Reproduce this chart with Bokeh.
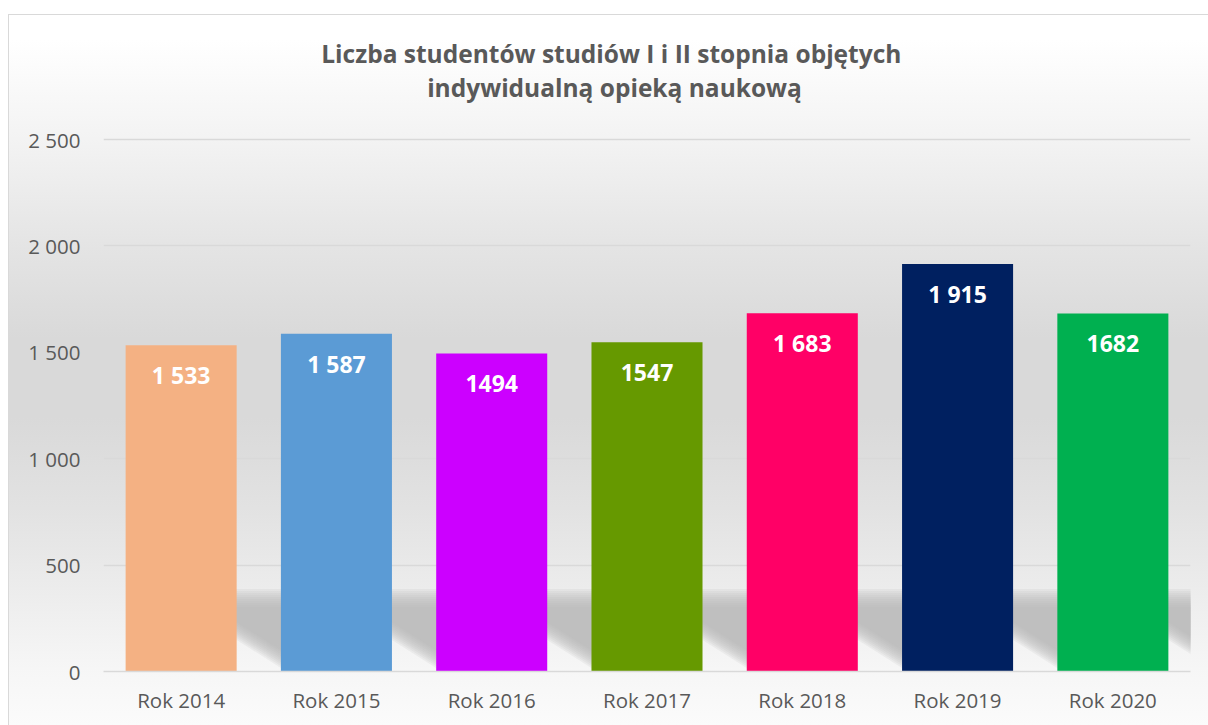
from bokeh.plotting import figure
from bokeh.models import Range1d, FixedTicker
from bokeh.core.properties import value
from bokeh.embed import file_html
from bokeh.resources import INLINE

# ---- data ----
categories = ["Rok 2014", "Rok 2015", "Rok 2016", "Rok 2017", "Rok 2018", "Rok 2019", "Rok 2020"]
counts = [1533, 1587, 1494, 1547, 1683, 1915, 1682]
count_labels = ["1 533", "1 587", "1494", "1547", "1 683", "1 915", "1682"]
bar_colors = ["#F4B183", "#5B9BD5", "#CC00FF", "#669900", "#FF0066", "#002060", "#00B050"]
y_ticks = [0, 500, 1000, 1500, 2000, 2500]
y_tick_labels = ["0", "500", "1 000", "1 500", "2 000", "2 500"]
title_lines = ["Liczba studentów  studiów I i II stopnia objętych",
               "indywidualną opieką naukową"]

# ---- layout (pixels) ----
W, H = 1208, 725
ML, MR, MT, MB = 103, 18, 0, 54
PX_PER_UNIT = 532 / 2500          # vertical scale of the value axis
BAR_W = 0.715
n = len(categories)
xs = list(range(n))
frame_w = W - ML - MR
frame_h = H - MT - MB
Y_MAX = frame_h / PX_PER_UNIT     # frame reaches up to the top so the title can live inside it

p = figure(width=W, height=H, x_range=Range1d(-0.5, n - 0.5), y_range=Range1d(0, Y_MAX),
           output_backend="svg", toolbar_location=None, title=None,
           min_border_left=ML, min_border_right=MR, min_border_top=MT, min_border_bottom=MB)
p.background_fill_alpha = 0
p.border_fill_alpha = 0
p.outline_line_color = None

grad = ("linear-gradient(to bottom, #ffffff 0px, #ffffff 40px, #f3f3f3 139px, #e4e4e4 248px, "
        "#d9d9d9 338px, #d9d9d9 418px, #e2e2e2 508px, #ececec 588px, #f6f6f6 668px, #fbfbfb 725px)")
p.styles = {
    "background-image": ("linear-gradient(#d9d9d9,#d9d9d9), linear-gradient(#d9d9d9,#d9d9d9), "
                         "linear-gradient(#ffffff,#ffffff), " + grad),
    "background-size": "100% 1px, 1px 100%, 8px 100%, 100% 100%",
    "background-position": "8px 14px, 8px 14px, 0 0, 0 0",
    "background-repeat": "no-repeat",
}

def px_to_x(px):
    return -0.5 + (px - ML) * n / frame_w

def px_to_y(py):
    return (H - MB - py) / PX_PER_UNIT

# ---- soft shadows behind bars (decorative) ----
uy = 1 / PX_PER_UNIT
N_LAYERS = 10
for k in range(N_LAYERS):
    spread = ((N_LAYERS - 1) / 2 - k) * 2
    xs_poly, ys_poly = [], []
    for i in xs:
        R = i + BAR_W / 2
        L = i + 1 - BAR_W / 2
        top = 345 + spread * uy
        d1 = 205 - spread * uy
        d2 = 45 - spread * uy
        xs_poly.append([R - 0.03, L + 0.03, L + 0.03, R - 0.03])
        ys_poly.append([top, top, d2, d1])
    p.patches(xs_poly, ys_poly, fill_color="#b8b8b8", fill_alpha=0.15, line_color=None)

# ---- bars ----
p.vbar(x=xs, top=counts, width=BAR_W, color=bar_colors, line_color=None)
p.text(x=xs, y=counts, text=count_labels, y_offset=30, text_align="center",
       text_baseline="middle", text_color="white", text_font=value("Open Sans"),
       text_font_style="bold", text_font_size="23px")

# ---- title ----
p.text(x=[px_to_x(614), px_to_x(614)], y=[px_to_y(53), px_to_y(87)], text=title_lines,
       text_align="center", text_baseline="alphabetic", text_color="#595959",
       text_font=value("Open Sans"), text_font_style="bold", text_font_size="24.5px")

# ---- axes ----
p.xaxis.ticker = FixedTicker(ticks=xs)
p.xaxis.major_label_overrides = {i: c for i, c in zip(xs, categories)}
p.xaxis.axis_line_color = "#d9d9d9"
p.xaxis.axis_line_width = 1.5
p.xaxis.major_tick_line_color = None
p.xaxis.minor_tick_line_color = None
p.xaxis.major_label_standoff = 8
p.xaxis.major_label_text_font = "Open Sans"
p.xaxis.major_label_text_font_size = "20.5px"
p.xaxis.major_label_text_color = "#595959"

p.yaxis.ticker = FixedTicker(ticks=y_ticks)
p.yaxis.major_label_overrides = {t: s for t, s in zip(y_ticks, y_tick_labels)}
p.yaxis.axis_line_color = None
p.yaxis.major_tick_line_color = None
p.yaxis.minor_tick_line_color = None
p.yaxis.major_label_standoff = 17
p.yaxis.major_label_text_font = "Open Sans"
p.yaxis.major_label_text_font_size = "20.5px"
p.yaxis.major_label_text_color = "#595959"

p.xgrid.grid_line_color = None
p.ygrid.ticker = FixedTicker(ticks=y_ticks)
p.ygrid.grid_line_color = "#d9d9d9"
p.ygrid.grid_line_width = 1.5

open("out.html", "w").write(file_html(p, INLINE))
